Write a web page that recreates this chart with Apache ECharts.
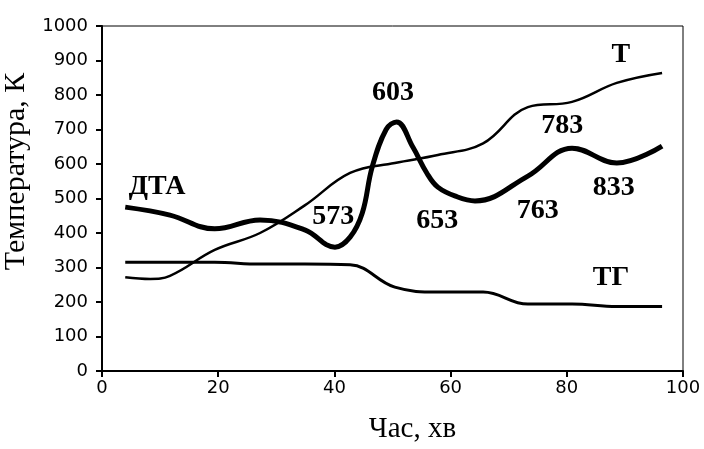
<!DOCTYPE html>
<html>
<head>
<meta charset="utf-8">
<script src="https://cdn.jsdelivr.net/npm/echarts@6/dist/echarts.min.js"></script>
<style>
  html, body { margin: 0; padding: 0; background: #fff; }
  #chart { width: 704px; height: 449px; }
</style>
</head>
<body>
<div id="chart"></div>
<script>
// time, min
const tTime = [4, 8.3, 11.7, 19.4, 27.2, 34.9, 42.7, 50.4, 57.8, 65.6, 73.3, 80.9, 88.6, 96.4];
const tValues = [272, 267, 276, 351, 400, 480, 574, 603, 626, 660, 765, 780, 835, 864];

const tgTime = [4, 11.7, 19.4, 27.2, 34.9, 42.7, 50.4, 57.8, 65.6, 73.3, 80.9, 88.6, 96.4];
const tgValues = [315, 315, 315, 310, 310, 308, 243, 229, 229, 194, 194, 187, 187];

const dtaTime = [4, 11.7, 19.4, 27.2, 34.9, 40.1, 42.7, 44.8, 46.5, 48.9, 50.7, 53.5, 55.9, 57.8, 61.1, 64.2, 73.3, 80.9, 88.6, 96.4];
const dtaValues = [475, 452, 412, 438, 409, 359, 388, 458, 591, 700, 722, 649, 574, 533, 505, 493, 565, 646, 603, 652];

// curve labels: text, time, temperature
const labelText = ["ДТА", "Т", "603", "573", "653", "763", "783", "833", "ТГ"];
const labelTime = [9.5, 89.3, 50.1, 39.8, 57.7, 75.0, 79.2, 88.1, 87.6];
const labelTemp = [533, 916, 806, 446, 436, 464, 710, 530, 270];

const xTicks = [0, 20, 40, 60, 80, 100];
const yTicks = [0, 100, 200, 300, 400, 500, 600, 700, 800, 900, 1000];

const pairs = (xs, ys) => xs.map((x, i) => [x, ys[i]]);

const chart = echarts.init(document.getElementById("chart"));

const lineSeries = (name, xs, ys, width) => ({
  name: name,
  type: "line",
  data: pairs(xs, ys),
  smooth: 0.4,
  symbol: "none",
  lineStyle: { color: "#000", width: width },
});

chart.setOption({
  animation: false,
  grid: {
    left: 102,
    right: 21,
    top: 26,
    bottom: 78,
    containLabel: false,
    outerBoundsMode: "none",
    show: true,
    borderColor: "#000",
    borderWidth: 1,
  },
  xAxis: {
    type: "value",
    min: xTicks[0],
    max: xTicks[xTicks.length - 1],
    interval: 20,
    name: "Час, хв",
    nameLocation: "middle",
    nameGap: 44,
    nameTextStyle: {
      fontFamily: "Liberation Serif",
      fontSize: 29,
      color: "#000",
      padding: [0, 0, 0, 40],
    },
    axisLine: { lineStyle: { color: "#000", width: 2 } },
    axisTick: { show: true, length: 6, lineStyle: { color: "#000", width: 2 } },
    axisLabel: { fontFamily: "DejaVu Sans", fontSize: 18, color: "#000", margin: 8 },
    splitLine: { show: false },
  },
  yAxis: {
    type: "value",
    min: yTicks[0],
    max: yTicks[yTicks.length - 1],
    interval: 100,
    name: "Температура, К",
    nameLocation: "middle",
    nameRotate: 90,
    nameGap: 62,
    nameTextStyle: {
      fontFamily: "Liberation Serif",
      fontSize: 30,
      color: "#000",
      padding: [0, 0, 0, 54],
    },
    axisLine: { show: true, lineStyle: { color: "#000", width: 2 } },
    axisTick: { show: true, length: 6, lineStyle: { color: "#000", width: 2 } },
    axisLabel: {
      fontFamily: "DejaVu Sans",
      fontSize: 18,
      color: "#000",
      margin: 14,
      formatter: (v) => String(v),
    },
    splitLine: { show: false },
  },
  series: [
    lineSeries("T", tTime, tValues, 2.5),
    lineSeries("TG", tgTime, tgValues, 3),
    lineSeries("DTA", dtaTime, dtaValues, 5),
    {
      type: "scatter",
      symbolSize: 1,
      itemStyle: { color: "transparent", opacity: 1 },
      z: 5,
      silent: true,
      data: labelText.map((t, i) => ({ name: t, value: [labelTime[i], labelTemp[i]] })),
      label: {
        show: true,
        position: "inside",
        formatter: "{b}",
        fontFamily: "Liberation Serif",
        fontWeight: "bold",
        fontSize: 28,
        color: "#000",
        opacity: 1,
        textBorderWidth: 0,
      },
    },
  ],
});
</script>
</body>
</html>
